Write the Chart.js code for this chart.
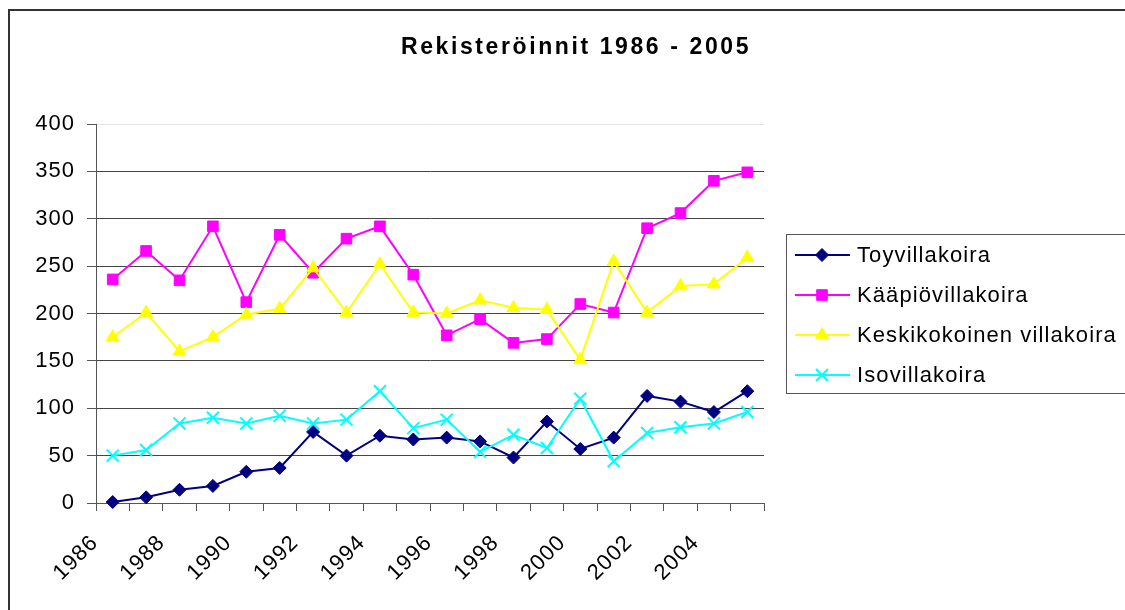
<!DOCTYPE html>
<html>
<head>
<meta charset="utf-8">
<script src="https://cdn.jsdelivr.net/npm/chart.js@4/dist/chart.umd.min.js"></script>
<style>
  body { margin: 0; background: #fff; }
  canvas { display: block; }
</style>
</head>
<body>
<canvas id="chart" width="1125" height="610"></canvas>
<script>
const chartTitle = 'Rekisteröinnit 1986 - 2005';

const years = ['1986', '1987', '1988', '1989', '1990', '1991', '1992', '1993', '1994', '1995',
  '1996', '1997', '1998', '1999', '2000', '2001', '2002', '2003', '2004', '2005'];

const toyvillakoira = [1, 6, 14, 18, 33, 37, 75, 50, 71, 67, 69, 65, 48, 86, 57, 69, 113, 107, 96, 118];
const kaapiovillakoira = [236, 266, 235, 292, 212, 283, 243, 279, 292, 241, 177, 194, 169, 173, 210, 201, 290, 306, 340, 349];
const keskikokoinen = [175, 201, 160, 175, 199, 205, 248, 201, 252, 201, 200, 214, 206, 204, 151, 255, 201, 229, 231, 259];
const isovillakoira = [50, 56, 84, 90, 84, 92, 84, 88, 118, 79, 88, 54, 72, 58, 110, 44, 74, 80, 84, 96];

const yTicks = { min: 0, max: 400, step: 50 };

const FONT = "'Liberation Sans', Arial, sans-serif";
Chart.defaults.font.family = FONT;
Chart.defaults.color = '#000';

// Excel style: later series drawn on top, so give them a lower order
function series(label, data, color, style, radius, order) {
  return {
    label: label,
    data: data,
    borderColor: color,
    backgroundColor: color,
    borderWidth: 2,
    pointStyle: style,
    pointRadius: radius,
    pointHoverRadius: radius,
    pointBorderWidth: style === 'crossRot' ? 2 : 1,
    pointBackgroundColor: color,
    pointBorderColor: color,
    tension: 0,
    fill: false,
    clip: false,
    order: order,
  };
}

// Frame, title and the boxed legend on the right, drawn the Excel way
const excelDecor = {
  id: 'excelDecor',
  beforeDraw(chart) {
    const ctx = chart.ctx;
    ctx.letterSpacing = '1px';
    ctx.save();
    ctx.strokeStyle = '#333';
    ctx.lineWidth = 2;
    ctx.beginPath();
    ctx.moveTo(9, 612);
    ctx.lineTo(9, 10);
    ctx.lineTo(1130, 10);
    ctx.stroke();

    ctx.letterSpacing = '2.6px';
    ctx.font = 'bold 23px ' + FONT;
    ctx.fillStyle = '#000';
    ctx.textAlign = 'center';
    ctx.textBaseline = 'middle';
    ctx.fillText(chartTitle, 576, 48);
    ctx.restore();
  },
  afterDraw(chart) {
    const ctx = chart.ctx;
    ctx.save();
    ctx.strokeStyle = '#555';
    ctx.lineWidth = 1;
    ctx.strokeRect(786.5, 234.5, 360, 159);

    const drawPoint = Chart.helpers && Chart.helpers.drawPoint;
    ctx.letterSpacing = '1.1px';
    ctx.font = '22px ' + FONT;
    ctx.textBaseline = 'middle';
    ctx.textAlign = 'left';
    chart.data.datasets.forEach((ds, i) => {
      const y = 255 + i * 40;
      ctx.strokeStyle = ds.borderColor;
      ctx.fillStyle = ds.backgroundColor;
      ctx.lineWidth = 2;
      ctx.beginPath();
      ctx.moveTo(795, y);
      ctx.lineTo(850, y);
      ctx.stroke();
      if (drawPoint) {
        ctx.lineWidth = ds.pointBorderWidth;
        drawPoint(ctx, {
          pointStyle: ds.pointStyle,
          rotation: 0,
          radius: ds.pointRadius,
          borderWidth: ds.pointBorderWidth,
        }, 822, y);
      }
      ctx.fillStyle = '#000';
      ctx.fillText(ds.label, 857, y + 1);
    });
    ctx.restore();
  },
};

const data = {
  labels: years,
  datasets: [
    series('Toyvillakoira', toyvillakoira, '#000080', 'rectRot', 6.5, 3),
    series('Kääpiövillakoira', kaapiovillakoira, '#FF00FF', 'rect', 7.5, 2),
    series('Keskikokoinen villakoira', keskikokoinen, '#FFFF00', 'triangle', 7.5, 1),
    series('Isovillakoira', isovillakoira, '#00FFFF', 'crossRot', 8.5, 0),
  ],
};

const config = {
  type: 'line',
  data: data,
  options: {
    responsive: false,
    animation: false,
    events: [],
    layout: {
      padding: { top: 124, left: 0, right: 361, bottom: 0 },
    },
    plugins: {
      legend: { display: false },
      title: { display: false },
      tooltip: { enabled: false },
    },
    scales: {
      x: {
        type: 'category',
        offset: true,
        border: { display: true, color: '#555', width: 1 },
        grid: {
          offset: true,
          drawOnChartArea: false,
          drawTicks: true,
          tickLength: 8,
          tickColor: '#555',
        },
        ticks: {
          autoSkip: false,
          minRotation: 45,
          maxRotation: 45,
          padding: 19,
          labelOffset: -18,
          font: { size: 22 },
          color: '#000',
          callback: (value, index) => (index % 2 === 0 ? years[index] : ''),
        },
        afterFit(scale) {
          scale.height = 107;
        },
      },
      y: {
        min: yTicks.min,
        max: yTicks.max,
        border: { display: true, color: '#555', width: 1 },
        grid: {
          color: (ctx) => (ctx.tick && ctx.tick.value === yTicks.max ? '#e4e4e4' : '#444'),
          tickColor: '#555',
          tickLength: 9,
          lineWidth: 1,
        },
        ticks: {
          stepSize: yTicks.step,
          padding: 12,
          font: { size: 22 },
          color: '#000',
        },
        afterFit(scale) {
          scale.width = 96;
        },
      },
    },
  },
  plugins: [excelDecor],
};

window.rekisterointiChart = new Chart(document.getElementById('chart'), config);
</script>
</body>
</html>
